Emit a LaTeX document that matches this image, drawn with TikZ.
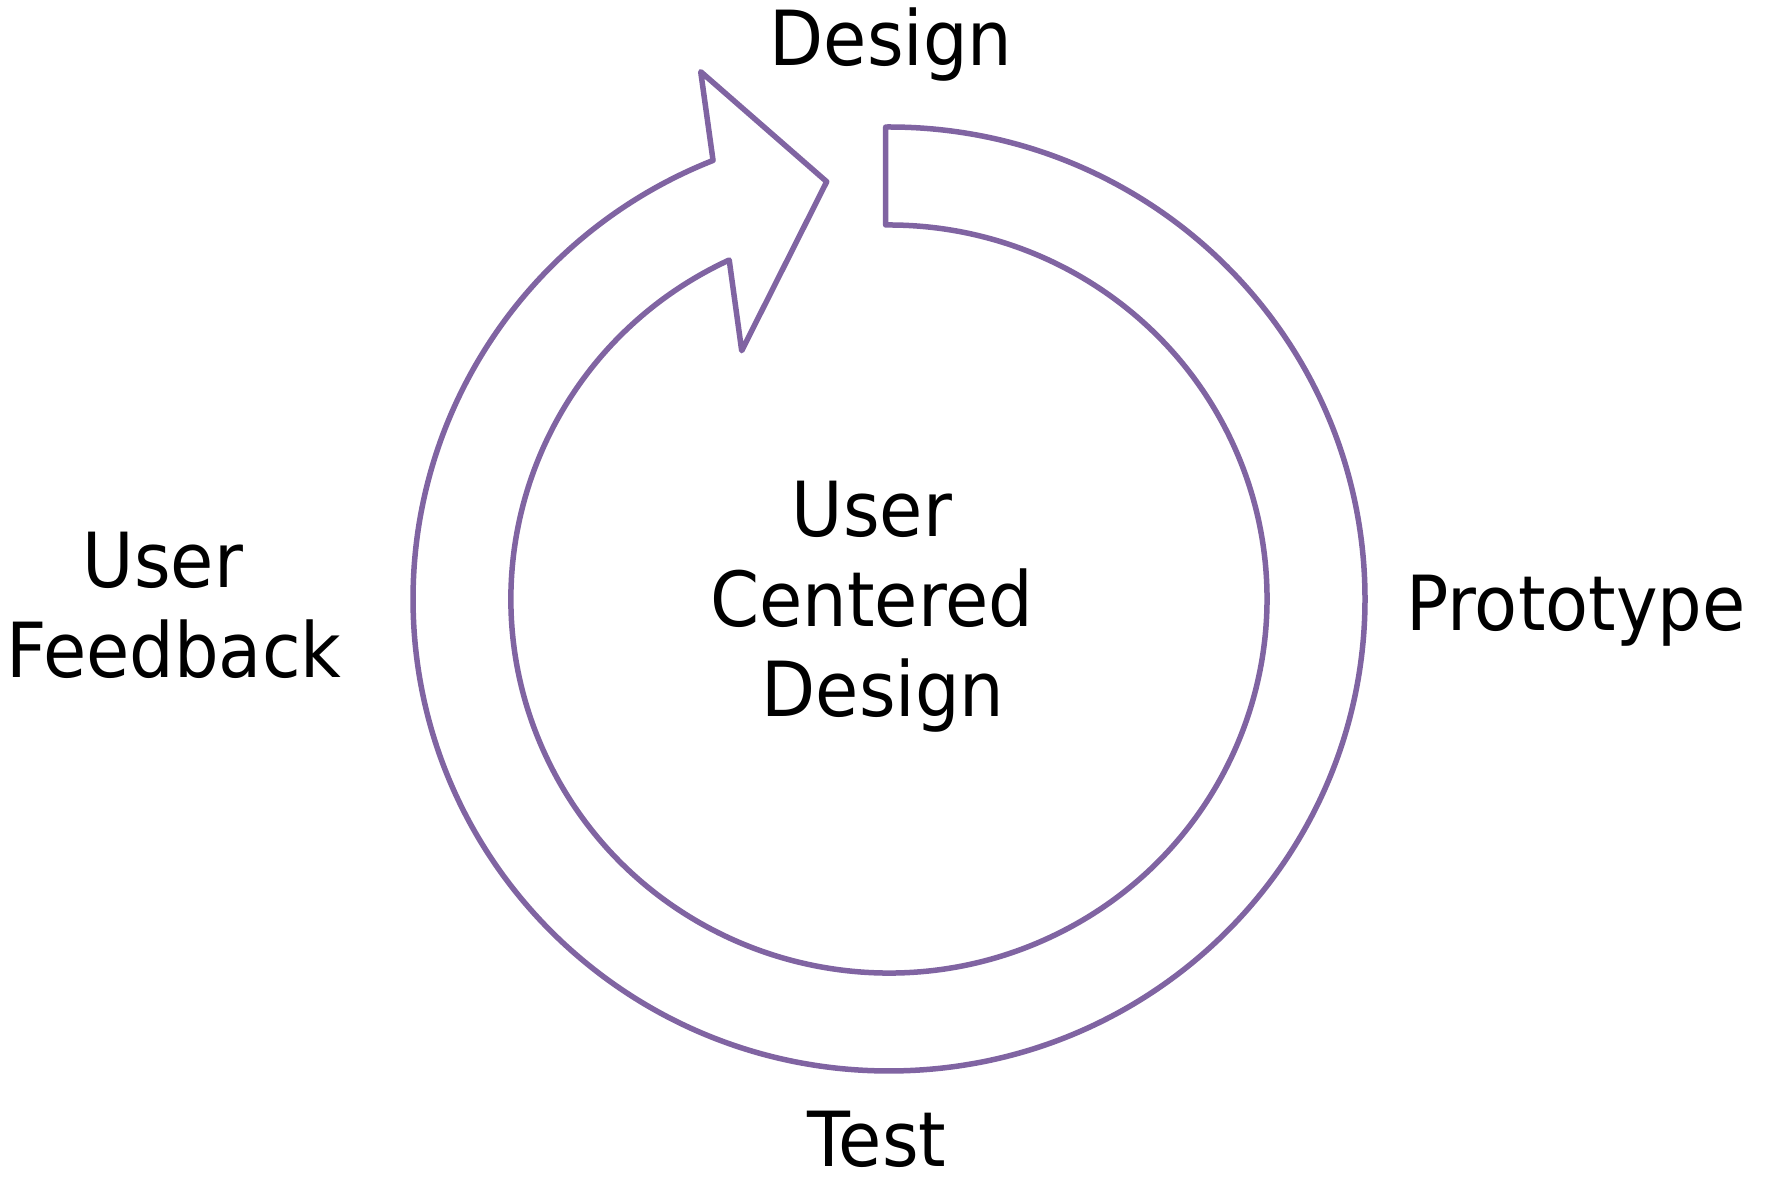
\documentclass[tikz,border=0pt]{standalone}
\usepackage{fontspec}
\setmainfont{DejaVu Sans}[FakeStretch=0.925]
\definecolor{cyclepurple}{HTML}{8064A2}
\begin{document}
\begin{tikzpicture}[x=1pt,y=-1pt,
  lbl/.style={font=\fontsize{76}{90}\selectfont, inner sep=0pt, align=center, text=black},
  cyclearrow/.style={draw=cyclepurple, line width=5.5pt, line join=round}]
\useasboundingbox (0,0) rectangle (1775,1179);
\path[cyclearrow]
  (885.7,127) arc[start angle=-90.4, end angle=248.3, x radius=476, y radius=472]
  -- (700.7,71.7) -- (826.7,181.7) -- (741.7,350.7) -- (729.2,260)
  arc[start angle=245, end angle=-90.5, x radius=378, y radius=374] -- cycle;
\node[lbl, anchor=base] (design) at (891,65) {Design};
\node[lbl, anchor=base] (proto) at (1576,630) {Prototype};
\node[lbl, anchor=base] (test) at (877,1166) {Test};
\node[lbl] (feedback) at (174,605) {User\hspace*{22pt}\\Feedback};
\node[lbl] (ucd) at (872,607) {User\\Centered\\\hspace*{22pt}Design};
\end{tikzpicture}
\end{document}
